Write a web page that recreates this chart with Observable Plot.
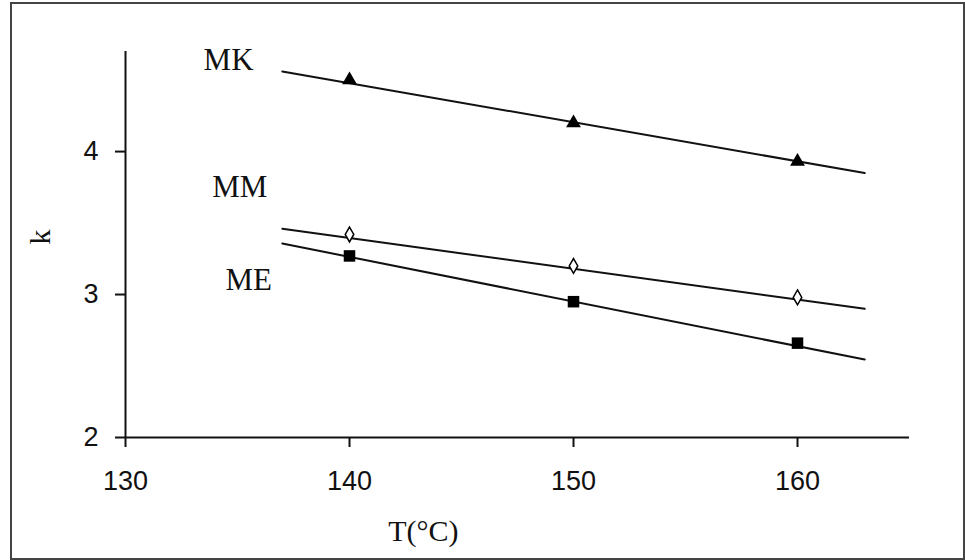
<!DOCTYPE html>
<html>
<head>
<meta charset="utf-8">
<script src="https://cdn.jsdelivr.net/npm/d3@7"></script>
<script src="https://cdn.jsdelivr.net/npm/@observablehq/plot@0.6"></script>
<style>
  html, body { margin: 0; padding: 0; background: #fff; }
  #wrap { position: relative; width: 965px; height: 560px; }
  #border { position: absolute; left: 10px; top: 2px; width: 951px; height: 554px; border: 2px solid #444; pointer-events: none; }
</style>
</head>
<body>
<div id="wrap"><div id="border"></div></div>
<script>
// ---- data ----
const temps = [140, 150, 160];
const kMK = [4.5, 4.2, 3.93];
const kMM = [3.42, 3.2, 2.98];
const kME = [3.27, 2.95, 2.66];

const fitT = [137, 163];
const fitMK = [4.56, 3.85];
const fitMM = [3.46, 2.90];
const fitME = [3.357, 2.545];

const seriesNames = ["MK", "MM", "ME"];
const seriesLabelT = [134.6, 135.1, 135.5];
const seriesLabelK = [4.64, 3.75, 3.10];

const xTicks = [130, 140, 150, 160];
const yTicks = [2, 3, 4];
const xTitle = "T(°C)";
const xTitleT = [143.3];
const yTitle = "k";

// ---- build tables ----
const pts = (vals, name) => temps.map((t, i) => ({T: t, k: vals[i], s: name}));
const fit = (vals, name) => fitT.map((t, i) => ({T: t, k: vals[i], s: name}));
const labels = seriesNames.map((n, i) => ({T: seriesLabelT[i], k: seriesLabelK[i], name: n}));

const serif = "'Liberation Serif', 'DejaVu Serif', serif";
const sans = "'Liberation Sans', Arial, sans-serif";

const chart = Plot.plot({
  width: 965,
  height: 560,
  marginLeft: 125,
  marginRight: 56,
  marginTop: 51,
  marginBottom: 123,
  x: {domain: [130, 165]},
  y: {domain: [2, 4.7]},
  style: {background: "transparent", color: "#111"},
  marks: [
    Plot.ruleY([2], {stroke: "#111", strokeWidth: 2}),
    Plot.ruleX([130], {stroke: "#111", strokeWidth: 2}),
    Plot.axisX({ticks: xTicks, tickSize: 10, tickPadding: 23, strokeWidth: 2, fontSize: 27, fontFamily: sans, label: null, tickFormat: d => String(d)}),
    Plot.axisY({ticks: yTicks, tickSize: 10, tickPadding: 17, strokeWidth: 2, fontSize: 27, fontFamily: sans, label: null, tickFormat: d => String(d)}),
    Plot.line(fit(fitMK, "MK"), {x: "T", y: "k", stroke: "#111", strokeWidth: 2}),
    Plot.line(fit(fitMM, "MM"), {x: "T", y: "k", stroke: "#111", strokeWidth: 2}),
    Plot.line(fit(fitME, "ME"), {x: "T", y: "k", stroke: "#111", strokeWidth: 2}),
    Plot.dot(pts(kMK, "MK"), {x: "T", y: "k", symbol: "triangle", r: 5.5, fill: "#000", stroke: "none"}),
    Plot.dot(pts(kMM, "MM"), {x: "T", y: "k", symbol: "diamond", r: 4.5, fill: "#fff", stroke: "#000", strokeWidth: 1.5}),
    Plot.dot(pts(kME, "ME"), {x: "T", y: "k", symbol: "square", r: 6.5, fill: "#000", stroke: "none"}),
    Plot.text(labels, {x: "T", y: "k", text: "name", fontSize: 31, fontFamily: serif, fill: "#111"}),
    Plot.text(xTitleT, {x: d => d, text: () => xTitle, frameAnchor: "bottom", dy: 103, fontSize: 30, fontFamily: serif, fill: "#111"}),
    Plot.text([yTitle], {text: d => d, frameAnchor: "left", dx: -85, rotate: -90, fontSize: 30, fontFamily: serif, fill: "#111"})
  ]
});
document.getElementById("wrap").prepend(chart);
</script>
</body>
</html>
